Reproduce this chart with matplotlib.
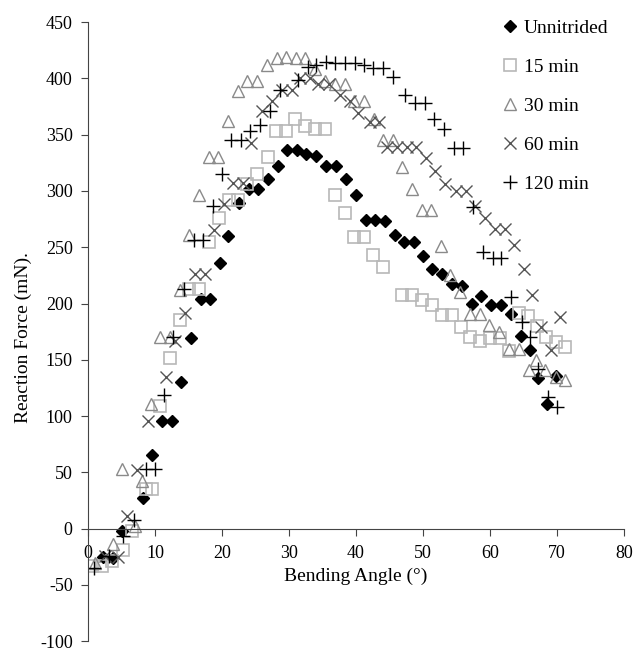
import matplotlib.pyplot as plt

plt.rcParams['font.family'] = ['Liberation Serif', 'DejaVu Serif']
plt.rcParams['axes.unicode_minus'] = False

# Unnitrided
x_un = [2.3, 3.8, 5.1, 8.2, 9.5, 11.0, 12.6, 13.9, 15.4, 16.8, 18.2, 19.7, 20.9, 22.6, 24.1, 25.4,
        26.9, 28.4, 29.7, 31.2, 32.6, 34.0, 35.5, 37.0, 38.5, 40.0, 41.5, 42.8, 44.3, 45.8, 47.2,
        48.6, 50.0, 51.4, 52.9, 54.3, 55.8, 57.3, 58.7, 60.1, 61.6, 63.1, 64.6, 65.9, 67.1, 68.5, 69.9]
y_un = [-25, -26, -2, 27, 65, 96, 96, 130, 169, 204, 204, 236, 260, 289, 302, 302,
        311, 322, 336, 336, 333, 331, 322, 322, 311, 296, 274, 274, 273, 261, 255,
        255, 242, 231, 226, 217, 216, 200, 207, 199, 199, 191, 171, 159, 134, 111, 136]

# 15 min
x_15 = [0.6, 2.1, 3.6, 5.2, 6.6, 8.6, 9.6, 10.8, 12.2, 13.7, 15.1, 16.6, 18.1, 19.6, 21.1, 22.4,
        23.8, 25.3, 26.8, 28.1, 29.6, 30.9, 32.4, 33.9, 35.4, 36.8, 38.3, 39.7, 41.2, 42.6, 44.1,
        46.8, 48.3, 49.8, 51.3, 52.8, 54.3, 55.7, 57.0, 58.5, 60.0, 61.5, 62.9, 64.3, 65.7, 67.0,
        68.4, 69.8, 71.2]
y_15 = [-33, -33, -29, -19, -2, 35, 35, 109, 152, 185, 213, 213, 255, 276, 292, 292,
        306, 315, 330, 353, 353, 364, 358, 355, 355, 296, 280, 259, 259, 243, 232,
        208, 208, 203, 199, 190, 190, 179, 170, 167, 169, 169, 158, 192, 189, 180,
        170, 166, 161]

# 30 min
x_30 = [1.0, 3.7, 5.1, 7.0, 8.1, 9.4, 10.8, 12.2, 13.7, 15.1, 16.6, 18.1, 19.4, 20.9, 22.4, 23.8,
        25.3, 26.7, 28.2, 29.6, 31.0, 32.4, 33.9, 35.4, 36.9, 38.4, 39.7, 41.2, 42.7, 44.0, 45.5,
        46.8, 48.3, 49.8, 51.2, 52.7, 54.1, 55.5, 57.0, 58.5, 59.9, 61.4, 62.9, 64.3, 65.8, 66.9,
        68.2, 69.9, 71.2]
y_30 = [-31, -14, 53, 2, 42, 111, 170, 170, 212, 261, 296, 330, 330, 362, 389, 398,
        398, 412, 418, 419, 418, 418, 408, 398, 395, 395, 380, 380, 364, 345, 345,
        321, 302, 283, 283, 251, 225, 210, 191, 191, 181, 175, 160, 160, 141, 150,
        141, 135, 132]

# 60 min
x_60 = [2.6, 4.5, 5.9, 7.3, 8.9, 11.6, 13.0, 14.5, 16.0, 17.5, 18.8, 20.3, 21.7, 23.2, 24.4, 25.9,
        27.4, 28.9, 30.4, 31.6, 33.1, 34.4, 35.9, 37.6, 39.1, 40.3, 42.1, 43.5, 44.7, 46.1, 47.6,
        49.0, 50.4, 51.8, 53.3, 54.9, 56.4, 57.8, 59.3, 60.7, 62.2, 63.6, 65.1, 66.2, 67.6, 69.1,
        70.4]
y_60 = [-24, -25, 11, 52, 96, 135, 167, 192, 226, 226, 265, 288, 307, 307, 343, 371,
        380, 390, 390, 400, 400, 395, 395, 385, 380, 369, 361, 361, 339, 339, 339,
        339, 329, 318, 306, 300, 300, 287, 276, 266, 266, 252, 231, 208, 179, 159,
        188]

# 120 min
x_120 = [0.9, 3.1, 5.3, 6.8, 8.7, 10.0, 11.3, 12.7, 14.3, 15.8, 17.2, 18.6, 20.0, 21.4, 22.8,
         24.2, 25.7, 27.2, 28.6, 31.4, 32.9, 34.1, 35.5, 36.9, 38.4, 39.9, 41.2, 42.6, 44.1,
         45.5, 47.3, 48.8, 50.3, 51.6, 53.1, 54.6, 56.0, 57.5, 58.9, 60.4, 61.7, 63.2, 64.8,
         66.0, 67.2, 68.7, 70.0]
y_120 = [-35, -24, -7, 8, 53, 53, 119, 170, 213, 256, 256, 287, 315, 345, 345,
         353, 359, 371, 390, 399, 410, 412, 415, 414, 414, 414, 412, 409, 409,
         401, 385, 378, 378, 364, 355, 338, 338, 286, 246, 240, 240, 206, 184,
         170, 142, 117, 108]

fig = plt.figure(figsize=(6.42, 6.5), dpi=100)
ax = fig.add_axes([0.137, 0.0138, 0.835, 0.952])

ax.plot(x_un, y_un, linestyle='none', marker='D', markersize=6.5, color='black', label='Unnitrided')
ax.plot(x_15, y_15, linestyle='none', marker='s', markersize=8, markerfacecolor='none',
        markeredgecolor='#b8b8b8', markeredgewidth=1.2, label='15 min')
ax.plot(x_30, y_30, linestyle='none', marker='^', markersize=8.5, markerfacecolor='none',
        markeredgecolor='#8a8a8a', markeredgewidth=1.0, label='30 min')
ax.plot(x_60, y_60, linestyle='none', marker='x', markersize=8.5, color='#555555',
        markeredgewidth=1.0, label='60 min')
ax.plot(x_120, y_120, linestyle='none', marker='+', markersize=9.5, color='black',
        markeredgewidth=1.0, label='120 min')

ax.set_xlim(0, 80)
ax.set_ylim(-100, 450)
ax.set_xticks(range(0, 81, 10))
ax.set_yticks(range(-100, 451, 50))

ax.spines['top'].set_visible(False)
ax.spines['right'].set_visible(False)
ax.spines['bottom'].set_position(('data', 0))
ax.spines['left'].set_color('#444444')
ax.spines['bottom'].set_color('#444444')
ax.tick_params(direction='out', length=5, color='#444444', labelsize=13)
ax.tick_params(axis='y', pad=6)
ax.tick_params(axis='x', pad=7)

ax.set_xlabel('Bending Angle (°)', fontsize=14)
ax.set_ylabel('Reaction Force (mN).', fontsize=14)
ax.xaxis.set_label_coords(0.5, 0.118)
ax.yaxis.set_label_coords(-0.105, 0.49)

ax.legend(loc='upper right', bbox_to_anchor=(0.985, 1.017), frameon=False, fontsize=14,
          handlelength=1.0, handletextpad=0.2, labelspacing=1.1, borderaxespad=0.0)

fig.savefig('out.png', dpi=100)
